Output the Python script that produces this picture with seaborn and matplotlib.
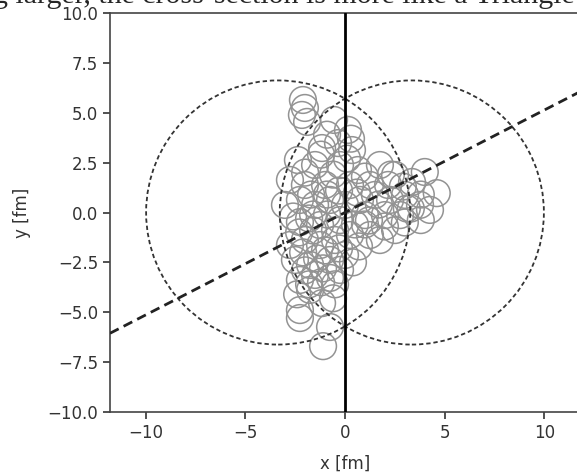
import numpy as np
import pandas as pd
import matplotlib
matplotlib.use("Agg")
import matplotlib.pyplot as plt
from matplotlib.patches import Circle
import seaborn as sns

# nuclei (fm)
R_nucleus = 6.62
b_impact = 6.7
psi_deg = 27.2  # participant plane angle
r_nucleon = 0.67

# participant nucleon centres (fm)
nuc_x = [-2.11, -2.01, -2.16, -1.90, -0.55, 0.15, -1.15, -0.35, 0.35, -2.36,
         -1.50, -0.25, 0.65, 1.75, 2.51, -2.76, -2.01, -1.00, 0.25, 1.25,
         2.16, 4.00, 3.36, -3.01, -2.26, -1.50, -0.75, 0.00, 0.75, 1.50,
         2.26, 3.01, 3.76, 4.60, 4.26, -2.26, -1.25, -0.25, 1.00, 2.00,
         2.76, 3.80, 2.51, -2.76, -2.01, -1.25, -0.50, 0.25, 1.25, 1.75,
         -2.51, -1.75, -0.75, 0.00, -2.26, -1.50, -0.75, -0.25, -2.26, -1.15,
         -2.26, -0.75, -1.10, -1.75, -1.60, 3.10, 1.00,
         -0.90, 0.30, -2.00, -1.20, -0.60, 0.10, -1.70, -0.90, -0.30, -2.60,
         -1.80, -0.90, -0.50, -1.60, -2.30, -1.00, -2.10, -0.30, -1.40, -2.00,
         -1.10, -0.50, -1.80, -1.20, -2.40, -0.60,
         0.60, 1.00, 1.70, 2.30, 2.90, 3.30, 2.00, 1.20, 0.50, 3.00,
         3.80, 0.70, 0.40]
nuc_y = [5.64, 5.24, 4.89, 4.54, 4.64, 4.14, 3.23, 3.48, 3.13, 2.63,
         2.38, 2.38, 2.13, 2.38, 1.88, 1.63, 1.38, 1.38, 1.38, 1.38,
         1.38, 2.03, 1.53, 0.38, 0.63, 0.38, 0.63, 0.38, 0.63, 0.88,
         0.63, 0.88, 0.38, 0.97, 0.13, -0.48, -0.63, -0.38, -0.13, -0.13,
         -0.13, -0.38, -0.88, -1.63, -1.38, -1.63, -1.38, -1.13, -1.13, -1.38,
         -2.38, -2.63, -2.38, -2.13, -3.38, -3.13, -3.28, -2.88, -4.89, -4.54,
         -5.29, -5.74, -6.70, -3.88, -0.10, 0.20, -0.60,
         3.90, 3.70, 2.00, 2.90, 1.90, 2.70, 0.90, 0.90, 1.10, -0.20,
         -0.30, -0.10, -0.90, -0.90, -1.00, -1.90, -2.00, -1.80, -2.30, -2.90,
         -2.80, -3.60, -3.60, -3.50, -4.10, -4.30,
         1.00, 1.80, 0.40, 1.90, 1.30, 0.20, -0.70, -0.40, -0.60, -0.50,
         0.90, -1.70, -2.50]

x_ticks = [-10, -5, 0, 5, 10]
y_ticks = [-10.0, -7.5, -5.0, -2.5, 0.0, 2.5, 5.0, 7.5, 10.0]
x_lim = (-11.78, 11.78)
y_lim = (-10, 10)

sns.set_style("ticks")
plt.rcParams["font.family"] = ["DejaVu Sans"]

W, H = 577, 475
fig = plt.figure(figsize=(W / 100, H / 100), dpi=100)
ax = fig.add_axes([110 / W, 1 - 412 / H, 470 / W, 399 / H])
ax.set_xlim(*x_lim)
ax.set_ylim(*y_lim)

# nucleon circles sized in data units
px_per_fm = ax.transData.transform((1, 0))[0] - ax.transData.transform((0, 0))[0]
diam_pt = 2 * r_nucleon * px_per_fm * 72 / fig.dpi
df = pd.DataFrame({"x": nuc_x, "y": nuc_y})
sns.scatterplot(data=df, x="x", y="y", ax=ax, marker="o", s=diam_pt ** 2,
                facecolor="none", edgecolor="#939393", linewidth=1.1,
                legend=False, zorder=2)

for cx in (-b_impact / 2, b_impact / 2):
    ax.add_patch(Circle((cx, 0), R_nucleus, fill=False, ec="#333333",
                        lw=1.3, ls=(0, (2.4, 1.6)), zorder=3))

ax.axvline(0, color="black", lw=2, zorder=4)
ax.axline((0, 0), slope=np.tan(np.radians(psi_deg)), color="#222222",
          lw=2, ls=(0, (3.5, 2.0)), zorder=4)

ax.set_xticks(x_ticks)
ax.set_yticks(y_ticks)
ax.set_yticklabels([f"{v:.1f}".replace("-", "\u2212") for v in y_ticks])
ax.tick_params(labelsize=12, colors="#333333", length=5, width=1.2)
for s in ax.spines.values():
    s.set_color("#444444")
    s.set_linewidth(1.2)
ax.set_xlabel("x [fm]", fontsize=12, color="#333333", labelpad=9)
ax.set_ylabel("y [fm]", fontsize=12, color="#333333", labelpad=12)

# sentence of the surrounding page, cut off by the screenshot
fig.text(-0.012, 0.994, "g larger, the cross-section is more like a Triangle",
         family=["Liberation Serif"], fontsize=21.5, va="baseline", ha="left")

fig.savefig("out.png", dpi=100)
